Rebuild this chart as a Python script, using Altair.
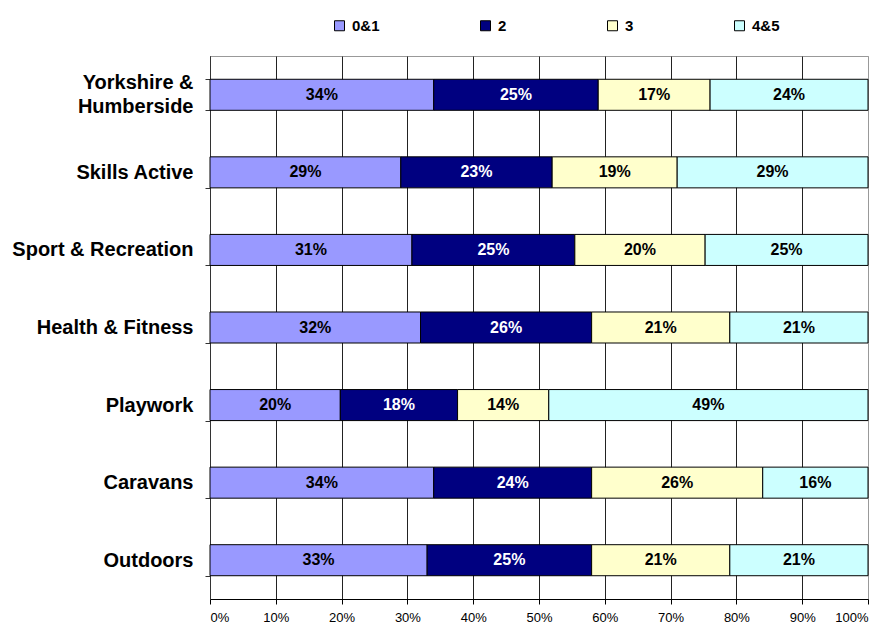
import altair as alt
import pandas as pd

# Qualification level shares (%) by sector
categories = ["Yorkshire & Humberside", "Skills Active", "Sport & Recreation",
              "Health & Fitness", "Playwork", "Caravans", "Outdoors"]
levels = ["0&1", "2", "3", "4&5"]
level_colors = ["#9999FF", "#000080", "#FFFFCC", "#CCFFFF"]

share_0_1 = [34, 29, 31, 32, 20, 34, 33]
share_2 = [25, 23, 25, 26, 18, 24, 25]
share_3 = [17, 19, 20, 21, 14, 26, 21]
share_4_5 = [24, 29, 25, 21, 49, 16, 21]

series = [share_0_1, share_2, share_3, share_4_5]
rows = []
for i, cat in enumerate(categories):
    for j, lvl in enumerate(levels):
        rows.append({"category": cat, "level": lvl, "order": j, "pct": series[j][i]})
df = pd.DataFrame(rows)

FONT = "Liberation Sans"
TWO_LINE = "datum.value == 'Yorkshire & Humberside'"

base = alt.Chart(df).transform_stack(
    stack="pct", groupby=["category"], as_=["x0", "x1"], offset="normalize",
    sort=[alt.SortField("order", order="ascending")],
).transform_calculate(
    mid="(datum.x0 + datum.x1) / 2",
    label="datum.pct + '%'",
)

y_enc = alt.Y(
    "category:N", sort=categories, title=None,
    scale=alt.Scale(paddingInner=0.6, paddingOuter=0.3),
    axis=alt.Axis(
        tickBand="extent", tickSize=5, tickColor="#333", domainColor="#333",
        labelFont=FONT, labelFontSize=20, labelFontWeight="bold", labelColor="black",
        labelPadding=12, labelLimit=300, labelLineHeight=24,
        labelOffset={"condition": {"test": TWO_LINE, "value": -12}, "value": 0},
        labelExpr=TWO_LINE + " ? ['Yorkshire &', 'Humberside'] : datum.value",
    ),
)

x_scale = alt.Scale(domain=[0, 1], nice=False)

bars = base.mark_bar(stroke="black", strokeWidth=1).encode(
    x=alt.X("x0:Q", scale=x_scale, title=None,
            axis=alt.Axis(format=".0%", tickCount=10, grid=True,
                          gridColor={"condition": {"test": "datum.value >= 1", "value": "#999"},
                                     "value": "#222"},
                          gridWidth=1, tickSize=5, tickColor="black", domainColor="black",
                          labelFont=FONT, labelFontSize=13, labelColor="black",
                          labelPadding=7)),
    x2="x1:Q",
    y=y_enc,
    color=alt.Color("level:N", scale=alt.Scale(domain=levels, range=level_colors),
                    legend=alt.Legend(orient="none", legendX=122, legendY=-38,
                                      direction="horizontal", title=None,
                                      symbolType="square", symbolSize=100,
                                      symbolStrokeColor="black", symbolStrokeWidth=1,
                                      symbolOpacity=1,
                                      labelFont=FONT, labelFontSize=15,
                                      labelFontWeight="bold", labelColor="black",
                                      labelOffset=5, columnPadding=98)),
    order=alt.Order("order:Q"),
)

text = base.mark_text(font=FONT, fontSize=16, fontWeight="bold").encode(
    x=alt.X("mid:Q", scale=x_scale),
    y=alt.Y("category:N", sort=categories),
    text="label:N",
    color=alt.condition("datum.level == '2'", alt.value("white"), alt.value("black")),
)

chart = alt.layer(bars, text).properties(
    width=658, height=543,
    autosize=alt.AutoSizeParams(type="none"),
    padding={"left": 210, "top": 56, "right": 19, "bottom": 25},
    background="white",
).configure_view(stroke="#999", strokeWidth=1)

chart.save("out.html", embed_options={"renderer": "svg", "actions": False})
